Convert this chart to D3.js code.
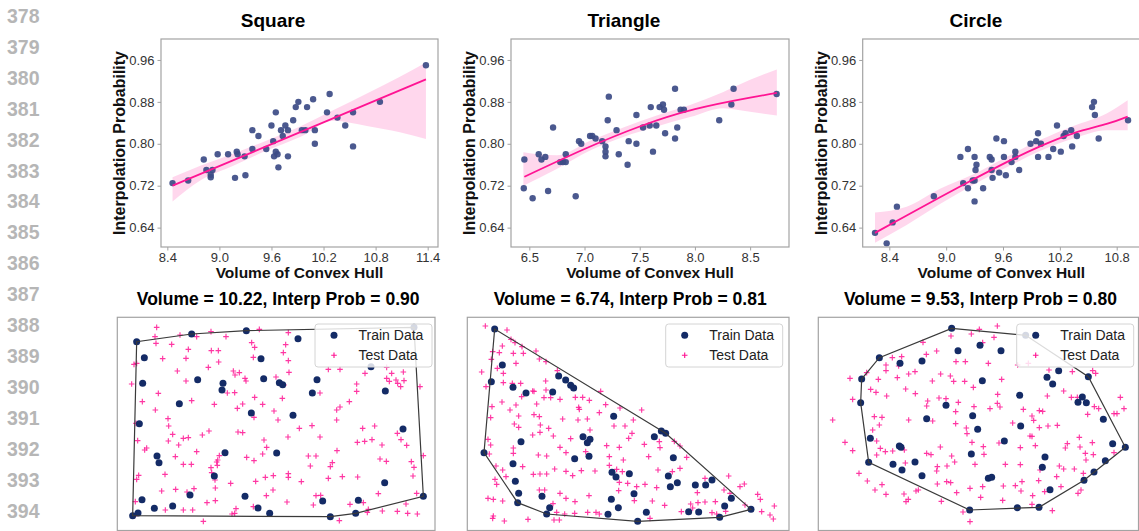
<!DOCTYPE html>
<html>
<head>
<meta charset="utf-8">
<script src="https://cdn.jsdelivr.net/npm/d3@7"></script>
<style>
body { margin: 0; background: #fff; }
text { font-family: "Liberation Sans", Arial, sans-serif; }
</style>
</head>
<body>
<script>
// ---- data ----
var lineNos = [378, 379, 380, 381, 382, 383, 384, 385, 386, 387, 388, 389, 390, 391, 392, 393, 394];
var shapes = ["Square", "Triangle", "Circle"];
var yTicks = [0.64, 0.72, 0.80, 0.88, 0.96];
var sqTicks = [8.4, 9.0, 9.6, 10.2, 10.8, 11.4];
var triTicks = [6.5, 7.0, 7.5, 8.0, 8.5];
var cirTicks = [8.4, 9.0, 9.6, 10.2, 10.8];

// [volume, interp prob]
var sqPts = [[8.46,0.725],[8.64,0.730],[8.82,0.770],[8.85,0.750],[8.90,0.741],[8.90,0.736],[8.92,0.750],[8.98,0.780],[9.10,0.780],[9.18,0.735],[9.20,0.785],[9.21,0.780],[9.29,0.776],[9.30,0.740],[9.38,0.826],[9.38,0.790],[9.45,0.815],[9.54,0.790],[9.60,0.835],[9.62,0.805],[9.63,0.776],[9.65,0.860],[9.65,0.785],[9.67,0.780],[9.68,0.755],[9.71,0.826],[9.73,0.815],[9.76,0.835],[9.79,0.776],[9.79,0.826],[9.85,0.845],[9.88,0.870],[9.91,0.880],[9.95,0.826],[9.99,0.826],[10.01,0.870],[10.08,0.885],[10.10,0.800],[10.10,0.826],[10.24,0.860],[10.27,0.895],[10.36,0.850],[10.45,0.835],[10.54,0.860],[10.54,0.795],[10.85,0.880],[11.38,0.950]];
var triPts = [[6.455,0.770],[6.45,0.715],[6.53,0.696],[6.585,0.780],[6.61,0.770],[6.645,0.775],[6.67,0.710],[6.715,0.831],[6.78,0.765],[6.805,0.765],[6.83,0.780],[6.83,0.765],[6.92,0.700],[6.95,0.805],[6.97,0.800],[7.05,0.815],[7.07,0.815],[7.10,0.810],[7.16,0.805],[7.19,0.795],[7.19,0.785],[7.19,0.776],[7.21,0.845],[7.22,0.890],[7.29,0.826],[7.31,0.780],[7.39,0.760],[7.40,0.805],[7.47,0.800],[7.47,0.855],[7.53,0.831],[7.60,0.870],[7.59,0.835],[7.62,0.785],[7.65,0.835],[7.68,0.870],[7.71,0.875],[7.72,0.865],[7.73,0.820],[7.82,0.810],[7.82,0.905],[7.84,0.831],[7.87,0.865],[7.90,0.865],[8.22,0.845],[8.33,0.875],[8.35,0.905],[8.74,0.895]];
var cirPts = [[8.249,0.630],[8.372,0.610],[8.435,0.650],[8.48,0.680],[8.87,0.700],[9.15,0.775],[9.18,0.725],[9.23,0.790],[9.23,0.715],[9.30,0.775],[9.28,0.730],[9.30,0.730],[9.30,0.690],[9.31,0.750],[9.32,0.760],[9.39,0.715],[9.46,0.775],[9.48,0.770],[9.48,0.750],[9.49,0.735],[9.53,0.810],[9.56,0.745],[9.61,0.775],[9.61,0.805],[9.63,0.740],[9.69,0.765],[9.73,0.785],[9.73,0.775],[9.77,0.750],[9.89,0.800],[9.95,0.805],[9.97,0.820],[9.97,0.775],[10.00,0.800],[10.08,0.775],[10.13,0.790],[10.17,0.835],[10.21,0.785],[10.24,0.815],[10.26,0.820],[10.32,0.826],[10.33,0.795],[10.38,0.815],[10.54,0.870],[10.56,0.880],[10.57,0.855],[10.61,0.810],[10.92,0.845]];

// regression fit and confidence band: [volume, fit] and [volume, low, high]
var sqFit = [[8.46,0.720],[11.38,0.923]];
var sqBand = [[8.46,0.690,0.736],[8.78,0.730,0.758],[9.16,0.758,0.781],[9.54,0.787,0.806],[9.93,0.813,0.833],[10.31,0.844,0.864],[10.70,0.834,0.896],[11.08,0.822,0.928],[11.38,0.809,0.955]];
var triFit = [[6.455,0.737],[7.0,0.790],[7.5,0.833],[8.0,0.866],[8.5,0.888],[8.742,0.897]];
var triBand = [[6.446,0.720,0.784],[6.748,0.752,0.778],[7.05,0.787,0.806],[7.352,0.813,0.831],[7.654,0.833,0.854],[7.956,0.851,0.874],[8.258,0.868,0.899],[8.5,0.861,0.922],[8.742,0.854,0.942]];
var cirFit = [[8.249,0.630],[8.583,0.663],[8.935,0.698],[9.287,0.732],[9.639,0.765],[9.99,0.795],[10.342,0.820],[10.694,0.838],[10.916,0.852]];
var cirBand = [[8.249,0.611,0.669],[8.583,0.645,0.680],[8.935,0.685,0.714],[9.287,0.722,0.742],[9.639,0.755,0.775],[9.99,0.786,0.807],[10.342,0.810,0.834],[10.694,0.826,0.858],[10.916,0.826,0.883]];

// bottom row
var sampleVolume = [10.22, 6.74, 9.53];
var sampleProb = [0.90, 0.81, 0.80];

var sqTrain = [[80,95],[245,72],[409,62],[564,86],[103,143],[453,146],[98,220],[263,209],[339,220],[336,240],[461,206],[508,218],[518,224],[621,209],[607,249],[826,243],[208,281],[424,309],[549,316],[88,341],[879,357],[345,428],[500,429],[141,438],[147,458],[313,498],[824,518],[96,569],[240,555],[405,559],[638,573],[745,571],[940,559],[133,595],[188,588],[444,594],[479,610],[661,620],[737,610],[84,609],[68,617],[912,52],[783,170]];
var sqTest = [[140,52],[135,80],[138,100],[210,75],[185,103],[260,80],[303,65],[348,80],[448,58],[535,68],[425,98],[434,112],[527,104],[235,118],[304,122],[325,122],[520,128],[158,146],[228,145],[326,156],[430,142],[535,152],[72,163],[80,160],[295,172],[202,183],[370,183],[388,188],[537,187],[375,195],[405,205],[228,213],[498,201],[408,213],[655,178],[690,178],[765,190],[830,172],[845,190],[880,186],[830,205],[858,210],[882,212],[863,220],[838,214],[65,222],[522,225],[145,250],[352,249],[374,248],[740,222],[740,244],[872,230],[930,230],[97,275],[245,272],[313,283],[434,262],[517,265],[630,249],[718,275],[458,283],[690,291],[680,300],[136,300],[382,295],[398,282],[492,303],[432,322],[174,326],[504,330],[680,330],[78,340],[176,348],[297,363],[606,347],[758,355],[794,348],[384,366],[398,368],[188,373],[235,383],[220,385],[277,375],[568,355],[862,370],[534,381],[630,381],[462,390],[786,389],[742,397],[764,394],[873,389],[816,405],[890,406],[83,392],[206,405],[175,393],[470,412],[110,414],[104,420],[260,425],[328,437],[458,432],[681,422],[595,438],[618,438],[196,440],[410,442],[432,452],[320,456],[323,450],[810,447],[829,454],[667,458],[904,455],[940,437],[220,463],[244,463],[601,468],[661,470],[912,472],[303,473],[322,466],[86,496],[305,488],[315,510],[437,514],[466,502],[490,497],[535,491],[535,502],[574,515],[655,505],[697,500],[743,501],[909,498],[80,508],[165,493],[362,520],[155,543],[197,538],[252,536],[231,546],[316,534],[489,540],[469,557],[618,557],[632,556],[760,578],[805,551],[920,550],[76,575],[291,578],[316,572],[166,600],[220,600],[248,600],[378,596],[531,576],[610,585],[720,583],[775,598],[772,607],[817,603],[862,604],[888,582],[893,610],[922,612],[374,610],[366,612],[280,634],[688,632],[73,618],[430,590]];

var triTrain = [[104,57],[127,165],[94,215],[159,232],[198,249],[296,198],[317,210],[332,226],[341,234],[278,246],[461,319],[369,380],[390,388],[382,398],[583,380],[604,363],[617,370],[183,395],[72,428],[344,446],[387,439],[159,461],[640,443],[456,487],[468,501],[508,491],[625,498],[631,530],[652,518],[706,525],[737,525],[756,510],[166,514],[176,550],[173,578],[246,559],[269,593],[260,612],[454,568],[475,593],[444,613],[522,551],[559,607],[533,634],[686,605],[716,606],[779,622],[794,588],[814,565],[873,598]];
var triTest = [[76,48],[141,60],[153,88],[165,98],[127,108],[98,125],[118,128],[94,148],[160,130],[186,110],[190,130],[228,123],[238,147],[258,155],[168,160],[112,175],[65,186],[78,230],[130,190],[130,218],[157,220],[182,220],[218,243],[292,182],[257,213],[252,263],[272,263],[300,268],[346,262],[368,262],[388,271],[422,244],[437,284],[480,294],[126,276],[96,290],[168,285],[150,300],[92,323],[176,318],[222,314],[238,320],[308,327],[356,292],[382,327],[354,330],[462,348],[520,330],[495,348],[516,370],[163,342],[176,352],[241,345],[218,375],[240,367],[84,388],[92,405],[88,432],[160,414],[160,430],[235,435],[260,438],[300,412],[332,386],[318,428],[377,425],[440,407],[478,412],[506,385],[553,403],[566,440],[598,395],[643,394],[660,408],[680,442],[108,468],[128,480],[138,500],[105,508],[188,470],[220,493],[240,492],[260,492],[284,477],[318,484],[338,497],[364,482],[405,483],[448,466],[470,478],[487,485],[503,520],[478,517],[530,530],[555,523],[594,480],[637,485],[590,533],[660,475],[735,505],[806,498],[712,548],[735,576],[792,540],[810,550],[840,530],[853,522],[855,585],[893,553],[901,568],[905,605],[930,615],[943,588],[940,627],[110,523],[84,565],[100,568],[128,573],[100,618],[98,625],[133,633],[204,628],[238,540],[254,540],[279,581],[318,565],[345,575],[387,557],[383,607],[408,607],[418,612],[314,612],[290,607],[282,630],[298,630],[344,610],[476,542],[523,572],[577,573],[570,625],[614,586],[692,582],[714,578],[766,575],[770,612],[797,604],[664,605],[698,594],[756,608],[222,244],[258,240],[185,260],[230,282],[358,298],[418,308],[448,440],[490,450],[266,355],[280,378],[545,300],[600,413],[300,550],[390,360]];

var cirTrain = [[425,55],[208,143],[155,207],[152,278],[181,385],[176,457],[270,160],[336,153],[444,122],[510,106],[573,122],[517,212],[629,256],[408,286],[350,326],[488,317],[503,358],[632,348],[583,393],[484,432],[268,408],[273,412],[249,463],[276,480],[315,456],[336,497],[535,505],[545,502],[479,600],[622,593],[687,592],[720,539],[705,441],[697,472],[822,511],[852,486],[886,452],[946,412],[908,401],[880,328],[829,278],[817,261],[804,277],[746,182],[711,202],[728,222],[835,200],[647,76]];
var cirTest = [[562,48],[508,58],[484,72],[423,78],[552,82],[518,98],[339,97],[380,123],[349,133],[275,140],[247,143],[228,165],[228,182],[266,168],[438,155],[466,155],[535,160],[623,165],[655,160],[120,205],[170,188],[205,208],[262,203],[296,192],[315,185],[392,192],[367,213],[421,198],[431,214],[464,214],[490,232],[575,208],[717,180],[787,185],[857,190],[848,182],[128,268],[182,238],[198,247],[230,258],[287,237],[316,251],[387,264],[408,266],[445,277],[353,273],[350,288],[437,305],[492,290],[540,296],[563,253],[562,280],[570,291],[640,298],[608,339],[666,318],[671,331],[688,302],[698,304],[712,258],[761,243],[784,262],[802,262],[853,290],[866,296],[833,313],[912,311],[921,311],[931,262],[942,296],[68,330],[193,320],[216,322],[296,330],[368,333],[469,354],[471,371],[437,341],[666,379],[688,353],[714,348],[742,346],[188,360],[208,345],[105,397],[128,422],[200,393],[211,415],[226,425],[248,423],[283,420],[350,430],[363,434],[391,411],[425,438],[486,397],[520,410],[522,433],[567,399],[631,413],[660,378],[676,407],[772,401],[766,414],[808,382],[810,411],[847,398],[826,430],[828,450],[850,434],[912,428],[200,435],[286,459],[382,470],[380,483],[411,468],[434,456],[495,463],[586,463],[631,464],[690,480],[748,468],[761,477],[793,477],[147,490],[172,513],[216,524],[195,540],[228,553],[282,552],[288,575],[295,568],[318,543],[325,540],[382,522],[410,515],[422,518],[440,548],[480,535],[518,530],[580,528],[578,571],[616,527],[636,515],[633,543],[666,583],[686,512],[740,500],[753,530],[804,550],[813,540],[820,490],[727,602],[459,606],[480,635],[512,562],[394,574],[668,557],[704,545]];

// ---- layout ----
var W = 1139, H = 531;
var svg = d3.select("body").append("svg").attr("width", W).attr("height", H);

var pink = "#ff1493";
var dotBlue = "#3c4b86";
var navy = "#142b66";
var spineCol = "#a3a3a3";

// line numbers down the left margin
svg.selectAll("text.ln").data(lineNos).enter().append("text")
	.attr("class", "ln")
	.attr("x", 7)
	.attr("y", function (d, i) { return 16 + i * 30.94 + 6.8; })
	.attr("font-size", 19.5)
	.attr("font-weight", "bold")
	.attr("fill", "#b6b6b6")
	.text(function (d) { return d; });

// ---- top row: regression plots ----
var topTop = 39, topBot = 247;
var yTop = d3.scaleLinear().domain([0.603, 1.0]).range([topBot, topTop]);

var topPanels = [
	{ left: 161, right: 438, dom: [8.327, 11.519], ticks: sqTicks, pts: sqPts, fit: sqFit, band: sqBand, titleX: 273 },
	{ left: 511, right: 789, dom: [6.334, 8.852], ticks: triTicks, pts: triPts, fit: triFit, band: triBand, titleX: 624 },
	{ left: 862.7, right: 1140, dom: [8.119, 11.046], ticks: cirTicks, pts: cirPts, fit: cirFit, band: cirBand, titleX: 976 }
];

topPanels.forEach(function (p, k) {
	var x = d3.scaleLinear().domain(p.dom).range([p.left, p.right]);
	var g = svg.append("g");

	// confidence band
	var area = d3.area()
		.x(function (d) { return x(d[0]); })
		.y0(function (d) { return yTop(d[1]); })
		.y1(function (d) { return yTop(d[2]); })
		.curve(d3.curveMonotoneX);
	g.append("path").datum(p.band).attr("d", area)
		.attr("fill", pink).attr("fill-opacity", 0.17).attr("stroke", "none");

	g.selectAll("circle").data(p.pts).enter().append("circle")
		.attr("cx", function (d) { return x(d[0]); })
		.attr("cy", function (d) { return yTop(d[1]); })
		.attr("r", 3.2)
		.attr("fill", dotBlue)
		.attr("fill-opacity", 0.92);

	var line = d3.line()
		.x(function (d) { return x(d[0]); })
		.y(function (d) { return yTop(d[1]); })
		.curve(d3.curveNatural);
	g.append("path").datum(p.fit).attr("d", line)
		.attr("fill", "none").attr("stroke", pink).attr("stroke-width", 1.8);

	// axes
	var xa = g.append("g").attr("transform", "translate(0," + topBot + ")")
		.call(d3.axisBottom(x).tickValues(p.ticks).tickSize(3.5).tickPadding(2.5).tickFormat(d3.format(".1f")));
	var ya = g.append("g").attr("transform", "translate(" + p.left + ",0)")
		.call(d3.axisLeft(yTop).tickValues(yTicks).tickSize(3.5).tickPadding(3).tickFormat(d3.format(".2f")));
	[xa, ya].forEach(function (a) {
		a.select(".domain").remove();
		a.selectAll(".tick line").attr("stroke", spineCol);
		a.selectAll(".tick text").attr("fill", "#333").attr("font-size", 13)
			.attr("font-family", "'Liberation Sans', Arial, sans-serif");
	});

	g.append("rect")
		.attr("x", p.left).attr("y", topTop)
		.attr("width", p.right - p.left).attr("height", topBot - topTop)
		.attr("fill", "none").attr("stroke", spineCol).attr("stroke-width", 1.2);

	g.append("text")
		.attr("x", (p.left + p.right) / 2).attr("y", 277.5)
		.attr("text-anchor", "middle")
		.attr("font-size", 15.5).attr("font-weight", "bold").attr("fill", "#111")
		.text("Volume of Convex Hull");

	g.append("text")
		.attr("transform", "translate(" + (p.left - 36) + "," + ((topTop + topBot) / 2) + ")rotate(-90)")
		.attr("text-anchor", "middle")
		.attr("font-size", 16).attr("font-weight", "bold").attr("fill", "#111")
		.text("Interpolation Probability");

	svg.append("text")
		.attr("x", p.titleX).attr("y", 27)
		.attr("text-anchor", "middle")
		.attr("font-size", 19).attr("font-weight", "bold").attr("fill", "#000")
		.text(shapes[k]);
});

// ---- bottom row: train/test scatter with convex hull ----
var botPanels = [
	{ ox: 110, left: 117.3, right: 435, legX: 315, train: sqTrain, test: sqTest },
	{ ox: 460, left: 467.3, right: 789, legX: 665.7, train: triTrain, test: triTest },
	{ ox: 810, left: 818.3, right: 1138.5, legX: 1016.7, train: cirTrain, test: cirTest }
];
var botTop = 317.3, botBot = 530.5;
var plusPath = "M-2.8,0H2.8M0,-2.8V2.8";

botPanels.forEach(function (p, k) {
	var x = d3.scaleLinear().domain([0, 990]).range([p.ox, p.ox + 330]);
	var y = d3.scaleLinear().domain([0, 663]).range([310, 531]);
	var g = svg.append("g");

	g.append("text")
		.attr("x", (p.left + p.right) / 2 + 2).attr("y", 305)
		.attr("text-anchor", "middle")
		.attr("font-size", 17.5).attr("font-weight", "bold").attr("fill", "#000")
		.text("Volume = " + sampleVolume[k].toFixed(2) + ", Interp Prob = " + sampleProb[k].toFixed(2));

	g.append("rect")
		.attr("x", p.left).attr("y", botTop)
		.attr("width", p.right - p.left).attr("height", botBot - botTop)
		.attr("fill", "none").attr("stroke", spineCol).attr("stroke-width", 1.2);

	g.selectAll("path.test").data(p.test).enter().append("path")
		.attr("class", "test")
		.attr("d", plusPath)
		.attr("transform", function (d) { return "translate(" + x(d[0]) + "," + y(d[1]) + ")"; })
		.attr("stroke", pink).attr("stroke-width", 1.15).attr("stroke-opacity", 0.85);

	var trainPx = p.train.map(function (d) { return [x(d[0]), y(d[1])]; });
	g.selectAll("circle").data(trainPx).enter().append("circle")
		.attr("cx", function (d) { return d[0]; })
		.attr("cy", function (d) { return d[1]; })
		.attr("r", 3.5)
		.attr("fill", navy);

	var hull = d3.polygonHull(trainPx);
	g.append("path")
		.attr("d", "M" + hull.join("L") + "Z")
		.attr("fill", "none").attr("stroke", "#3a3a3a").attr("stroke-width", 1.2);

	// legend
	var lg = g.append("g").attr("transform", "translate(" + p.legX + ",324)");
	lg.append("rect").attr("width", 117).attr("height", 43).attr("rx", 3)
		.attr("fill", "#fff").attr("fill-opacity", 0.82)
		.attr("stroke", "#d4d4d4").attr("stroke-width", 1);
	lg.append("circle").attr("cx", 19).attr("cy", 11.3).attr("r", 3.5).attr("fill", navy);
	lg.append("path").attr("d", plusPath).attr("transform", "translate(19,31.3)")
		.attr("stroke", pink).attr("stroke-width", 1.15);
	lg.append("text").attr("x", 43.5).attr("y", 16.3).attr("font-size", 14).attr("fill", "#222").text("Train Data");
	lg.append("text").attr("x", 43.5).attr("y", 36.3).attr("font-size", 14).attr("fill", "#222").text("Test Data");
});
</script>
</body>
</html>
